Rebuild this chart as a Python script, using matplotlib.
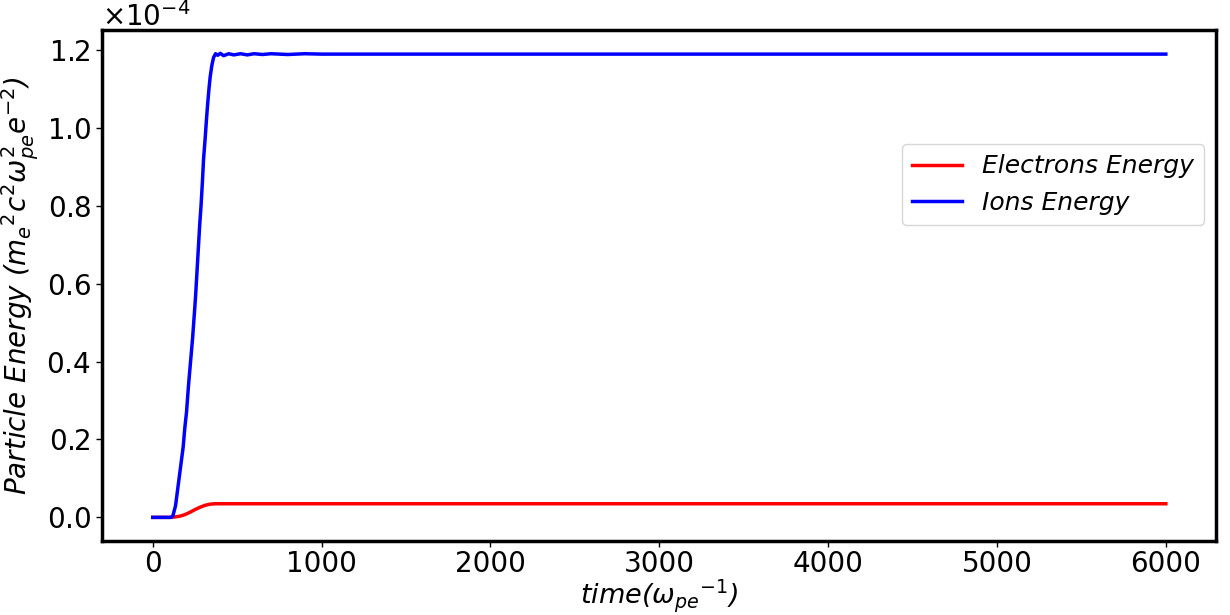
import matplotlib
matplotlib.use("Agg")
import matplotlib.pyplot as plt
import numpy as np

# time (omega_pe^-1)
t_ion = [0, 60, 110, 120, 135, 150, 165, 180, 190, 200, 212, 224, 236, 246, 254,
         262, 270, 278, 286, 294, 301, 310, 318, 325, 333, 340, 350, 360, 372,
         385, 400, 420, 450, 480, 520, 560, 600, 650, 700, 800, 900, 1000, 1200,
         1400, 1600, 1800, 2000, 2500, 3000, 3500, 4000, 4500, 5000, 5500, 6000]
e_ion = [0.0, 0.0, 0.0, 0.005, 0.03, 0.08, 0.13, 0.18, 0.23, 0.27, 0.34, 0.40,
         0.46, 0.52, 0.57, 0.63, 0.69, 0.75, 0.80, 0.86, 0.92, 0.97, 1.02, 1.06,
         1.10, 1.13, 1.16, 1.18, 1.19, 1.186, 1.191, 1.185, 1.190, 1.187, 1.190,
         1.187, 1.190, 1.188, 1.190, 1.188, 1.190, 1.189, 1.189, 1.189, 1.189,
         1.189, 1.189, 1.189, 1.189, 1.189, 1.189, 1.189, 1.189, 1.189, 1.189]

t_ele = [0, 60, 100, 130, 160, 190, 220, 250, 280, 310, 340, 370, 400, 500,
         1000, 2000, 3000, 4000, 5000, 6000]
e_ele = [0.0, 0.0, 0.0, 0.001, 0.003, 0.007, 0.013, 0.020, 0.026, 0.031,
         0.034, 0.035, 0.035, 0.035, 0.035, 0.035, 0.035, 0.035, 0.035, 0.035]

scale = 1e-4

fig = plt.figure(figsize=(12.3, 6.15), dpi=100)
ax = fig.add_axes([0.083, 0.121, 0.906, 0.830])

ax.plot(t_ele, np.array(e_ele) * scale, color='red', lw=2.5, label='Electrons Energy')
ax.plot(t_ion, np.array(e_ion) * scale, color='blue', lw=2.5, label='Ions Energy')

ax.ticklabel_format(axis='y', style='sci', scilimits=(0, 0), useMathText=True)
ax.yaxis.get_offset_text().set_fontsize(20)
ax.tick_params(labelsize=20, width=1, length=4, pad=4)
ax.tick_params(axis='x', pad=3)
for s in ax.spines.values():
    s.set_linewidth(2.5)

ax.set_xticks([0, 1000, 2000, 3000, 4000, 5000, 6000])
ax.set_xlabel(r'time(${\omega_{pe}}^{-1}$)', fontsize=19.5, style='italic', labelpad=-0.5)
ax.set_ylabel(r'Particle Energy (${m_e}^2c^2\omega_{pe}^2e^{-2}$)', fontsize=20,
              style='italic', labelpad=4)

ax.legend(loc='upper right', bbox_to_anchor=(0.989, 0.776), borderaxespad=0,
          prop={'size': 18, 'style': 'italic'}, handlelength=2.0)

fig.savefig('out.png', dpi=100)
